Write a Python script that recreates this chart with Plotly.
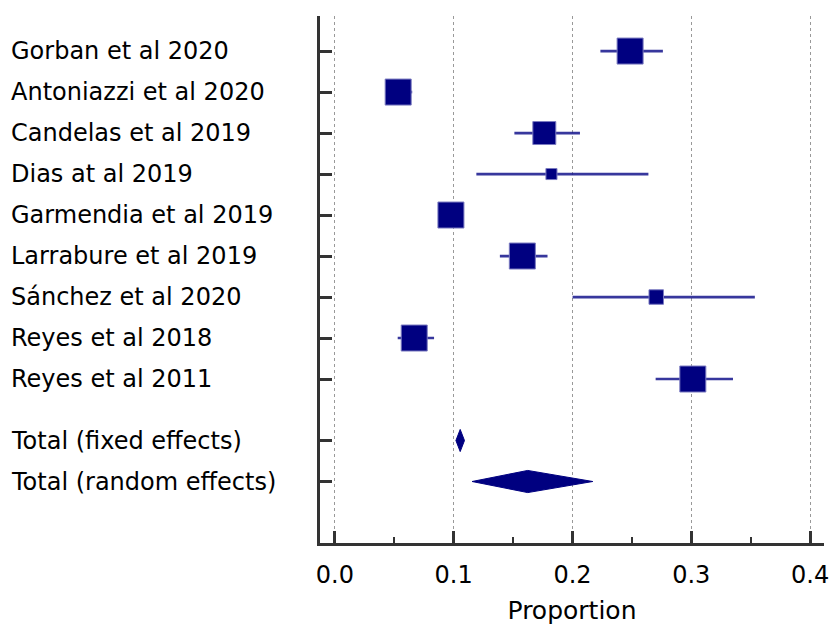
import plotly.graph_objects as go
import numpy as np

studies = ["Gorban et al 2020", "Antoniazzi et al 2020", "Candelas et al 2019",
           "Dias at al 2019", "Garmendia et al 2019", "Larrabure et al 2019",
           "Sánchez et al 2020", "Reyes et al 2018", "Reyes et al 2011"]
est = [0.2485, 0.0533, 0.1763, 0.1823, 0.0977, 0.1578, 0.2705, 0.0668, 0.3013]
lo = [0.2235, 0.043, 0.1511, 0.1191, 0.087, 0.1389, 0.2001, 0.0529, 0.2700]
hi = [0.2761, 0.0651, 0.2063, 0.2639, 0.108, 0.1790, 0.3535, 0.0835, 0.3351]
rel_weight = [100, 100, 78, 18, 100, 100, 31, 100, 100]

total_labels = ["Total (fixed effects)", "Total (random effects)"]
total_est = [0.1055, 0.1623]
total_lo = [0.1019, 0.1155]
total_hi = [0.1091, 0.2171]

xticks = [0.0, 0.1, 0.2, 0.3, 0.4]

rows = list(range(len(studies)))
total_rows = [len(studies) + 0.5, len(studies) + 1.5]

NAVY = "#000080"
fig = go.Figure()

# CI lines
cx, cy = [], []
for r, a, b in zip(rows, lo, hi):
    cx += [a, b, None]
    cy += [r, r, None]
fig.add_trace(go.Scatter(x=cx, y=cy, mode="lines",
                         line=dict(color="rgba(20,20,140,0.85)", width=2.7),
                         hoverinfo="skip", showlegend=False))

sizes = [26 * np.sqrt(w / 100) for w in rel_weight]
fig.add_trace(go.Scatter(x=est, y=rows, mode="markers",
                         marker=dict(symbol="square", size=sizes, color=NAVY,
                                     opacity=1,
                                     line=dict(color="#7a7ac0", width=1)),
                         showlegend=False))

h = 0.27
for r, e, a, b in zip(total_rows, total_est, total_lo, total_hi):
    fig.add_trace(go.Scatter(x=[a, e, b, e, a], y=[r, r - h, r, r + h, r],
                             mode="lines", fill="toself", fillcolor=NAVY,
                             line=dict(color=NAVY, width=1),
                             showlegend=False))

for lab, r in zip(studies + total_labels, rows + total_rows):
    fig.add_annotation(text=lab, x=-0.6169, xref="paper", y=r, yref="y",
                       xanchor="left", yanchor="middle", showarrow=False,
                       font=dict(family="DejaVu Sans", size=24, color="black"))

fig.update_layout(
    width=838, height=629,
    margin=dict(l=320, r=9, t=16, b=84),
    plot_bgcolor="white", paper_bgcolor="white",
    font=dict(family="DejaVu Sans", color="black"),
    xaxis=dict(range=[-0.0125, 0.4117], tickvals=xticks, tickformat=".1f",
               ticks="inside", ticklen=12, tickwidth=3, tickcolor="#333",
               showline=True, linewidth=3, linecolor="#333",
               showgrid=True, gridcolor="#999", griddash="dot", gridwidth=1,
               zeroline=False, tickfont=dict(size=24),
               ticklabelstandoff=8,
               minor=dict(dtick=0.05, tick0=0, ticks="inside", ticklen=6,
                          tickwidth=2, tickcolor="#333", showgrid=False),
               title=dict(text="Proportion", font=dict(size=25), standoff=14)),
    yaxis=dict(range=[12, -0.855], tickvals=rows + total_rows,
               ticks="inside", ticklen=12, tickwidth=3, tickcolor="#333",
               showticklabels=False, showline=True, linewidth=3,
               linecolor="#333", showgrid=False, zeroline=False),
)

fig.write_html("out.html", config={"displayModeBar": False},
               post_script="document.body.style.margin='0';"
                           "document.documentElement.style.overflow='hidden';")
